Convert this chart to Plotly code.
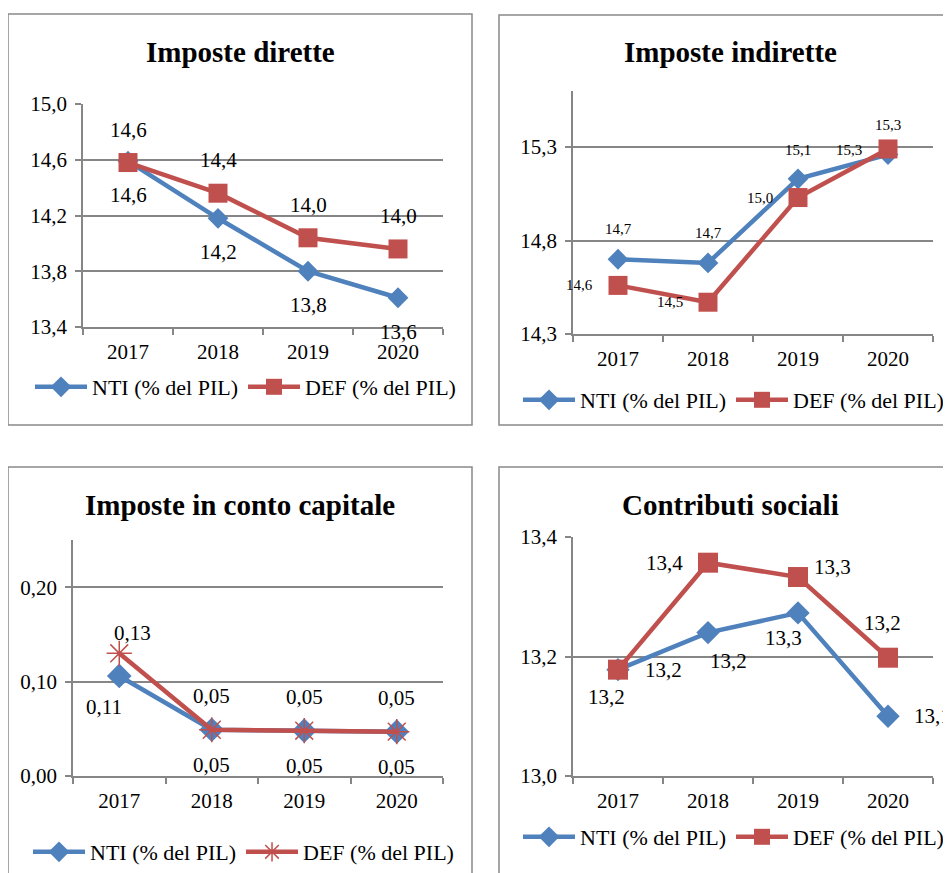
import plotly.graph_objects as go

# ---------------- data ----------------
years = ["2017", "2018", "2019", "2020"]
series_names = ["NTI (% del PIL)", "DEF (% del PIL)"]

titles = ["Imposte dirette", "Imposte indirette",
          "Imposte in conto capitale", "Contributi sociali"]

dirette_nti = [14.59, 14.18, 13.80, 13.61]
dirette_def = [14.58, 14.36, 14.04, 13.96]

indirette_nti = [14.70, 14.68, 15.13, 15.26]
indirette_def = [14.56, 14.47, 15.03, 15.29]

capitale_nti = [0.106, 0.049, 0.048, 0.047]
capitale_def = [0.130, 0.049, 0.048, 0.047]

contributi_nti = [13.178, 13.240, 13.273, 13.100]
contributi_def = [13.178, 13.357, 13.333, 13.198]

ytick_dirette = [13.4, 13.8, 14.2, 14.6, 15.0]
ytick_indirette = [14.3, 14.8, 15.3]
ytick_capitale = [0.00, 0.10, 0.20]
ytick_contributi = [13.0, 13.2, 13.4]

# ---------------- styling ----------------
OFF = 8                      # page body margin
W, H = 951 - OFF, 873 - OFF  # figure fits the window exactly
BLUE = "#4F81BD"
RED = "#C0504D"
GRID = "#868686"
FONT = "Liberation Serif, Times New Roman, serif"


def px(x):
    return (x - OFF) / W


def py(y):
    return 1 - (y - OFF) / H


def fmt(v, d):
    return f"{v:.{d}f}".replace(".", ",")


panels = [
    dict(nti=dirette_nti, dfv=dirette_def, ticks=ytick_dirette, rng=[13.4, 15.0], dec=1,
         dom_x=(83, 443), dom_y=(104, 327), title_xy=(240, 52), leg=(30, 387),
         def_symbol="square", def_size=19, nti_size=16, lab_size=21,
         nti_shift=[(0, -34)] * 4, def_shift=[(0, 33)] * 4),
    dict(nti=indirette_nti, dfv=indirette_def, ticks=ytick_indirette, rng=[14.3, 15.6], dec=1,
         dom_x=(573, 933), dom_y=(91, 334), title_xy=(730, 52), leg=(518, 400),
         def_symbol="square", def_size=19, nti_size=16, lab_size=15,
         nti_shift=[(0, 30), (0, 30), (0, 29), (-39, 5)],
         def_shift=[(-39, 0), (-38, 0), (-38, 0), (0, 24)]),
    dict(nti=capitale_nti, dfv=capitale_def, ticks=ytick_capitale, rng=[0.0, 0.25], dec=2,
         dom_x=(73, 443), dom_y=(540, 776), title_xy=(240, 505), leg=(28, 852),
         def_symbol="asterisk-open", def_size=21, nti_size=19, lab_size=21,
         nti_shift=[(-15, -31), (0, -35), (0, -35), (0, -35)],
         def_shift=[(13, 20), (0, 34), (0, 34), (0, 34)]),
    dict(nti=contributi_nti, dfv=contributi_def, ticks=ytick_contributi, rng=[13.0, 13.4], dec=1,
         dom_x=(573, 933), dom_y=(537, 776), title_xy=(730, 505), leg=(518, 837),
         def_symbol="square", def_size=20, nti_size=18, lab_size=21,
         nti_shift=[(-12, -27), (20, -28), (-15, -25), (44, 0)],
         def_shift=[(45, 0), (-44, 0), (34, 10), (-6, 35)]),
]

fig = go.Figure()
annotations = []
layout_axes = {}

for i, p in enumerate(panels, start=1):
    sfx = "" if i == 1 else str(i)
    xa, ya = "x" + sfx, "y" + sfx
    leg = "legend" + sfx

    fig.add_trace(go.Scatter(
        x=years, y=p["nti"], mode="lines+markers", name=series_names[0],
        line=dict(color=BLUE, width=4.5),
        marker=dict(symbol="diamond", size=p["nti_size"], color=BLUE),
        xaxis=xa, yaxis=ya, legend=leg, hoverinfo="skip", cliponaxis=False))
    if p["def_symbol"] == "asterisk-open":
        dmark = dict(symbol="asterisk-open", size=p["def_size"], color=RED,
                     line=dict(width=1.5, color=RED))
    else:
        dmark = dict(symbol=p["def_symbol"], size=p["def_size"], color=RED)
    fig.add_trace(go.Scatter(
        x=years, y=p["dfv"], mode="lines+markers", name=series_names[1],
        line=dict(color=RED, width=4.5), marker=dmark,
        xaxis=xa, yaxis=ya, legend=leg, hoverinfo="skip", cliponaxis=False))

    # data labels (x given as category index on the category axis)
    for vals, shifts in ((p["nti"], p["nti_shift"]), (p["dfv"], p["def_shift"])):
        for k, (v, (dx, dy)) in enumerate(zip(vals, shifts)):
            annotations.append(dict(
                x=k, y=v, xref=xa, yref=ya, text=fmt(v, p["dec"]), showarrow=False,
                xshift=dx, yshift=dy, xanchor="center", yanchor="middle",
                font=dict(family=FONT, size=p["lab_size"], color="black")))

    # title
    annotations.append(dict(
        x=px(p["title_xy"][0]), y=py(p["title_xy"][1]), xref="paper", yref="paper",
        text="<b>" + titles[i - 1] + "</b>", showarrow=False,
        xanchor="center", yanchor="middle",
        font=dict(family=FONT, size=29, color="black")))

    x0, x1 = p["dom_x"]
    ytop, ybot = p["dom_y"]
    layout_axes["xaxis" + sfx] = dict(
        domain=[px(x0), px(x1)], anchor=ya, type="category", automargin=False,
        categoryorder="array", categoryarray=years, range=[-0.5, 3.5],
        tickson="boundaries", ticks="outside", ticklen=6, tickwidth=1.5, tickcolor=GRID,
        ticklabelstandoff=5,
        showline=True, linecolor=GRID, linewidth=1.5, showgrid=False,
        tickfont=dict(family=FONT, size=21, color="black"), fixedrange=True)
    layout_axes["yaxis" + sfx] = dict(
        domain=[py(ybot), py(ytop)], anchor=xa, range=p["rng"], automargin=False,
        tickmode="array", tickvals=p["ticks"], tickformat=f".{p['dec']}f",
        ticks="outside", ticklen=6, tickwidth=1.5, tickcolor=GRID,
        ticklabelstandoff=4,
        showline=True, linecolor=GRID, linewidth=1.5,
        showgrid=True, gridcolor=GRID, gridwidth=1.5, zeroline=False,
        tickfont=dict(family=FONT, size=21, color="black"), fixedrange=True)
    layout_axes[leg] = dict(
        x=px(p["leg"][0]), y=py(p["leg"][1]), xanchor="left", yanchor="middle",
        orientation="h", bgcolor="rgba(0,0,0,0)", itemwidth=52,
        font=dict(family=FONT, size=22, color="black"))

# panel borders
shapes = []
for (bx0, by0, bx1, by1) in [(8, 14, 472, 425), (499, 15, 980, 425),
                             (8, 467, 472, 900), (499, 467, 980, 900)]:
    shapes.append(dict(type="rect", xref="paper", yref="paper",
                       x0=px(bx0), x1=px(bx1), y0=py(by1), y1=py(by0),
                       line=dict(color="#898989", width=1.5), layer="below"))

fig.update_layout(
    width=W, height=H, margin=dict(l=0, r=0, t=0, b=0, pad=0, autoexpand=False),
    paper_bgcolor="white", plot_bgcolor="white",
    font=dict(family=FONT, color="black"),
    separators=",.", showlegend=True,
    annotations=annotations, shapes=shapes,
    **layout_axes)

fig.write_html("out.html")
